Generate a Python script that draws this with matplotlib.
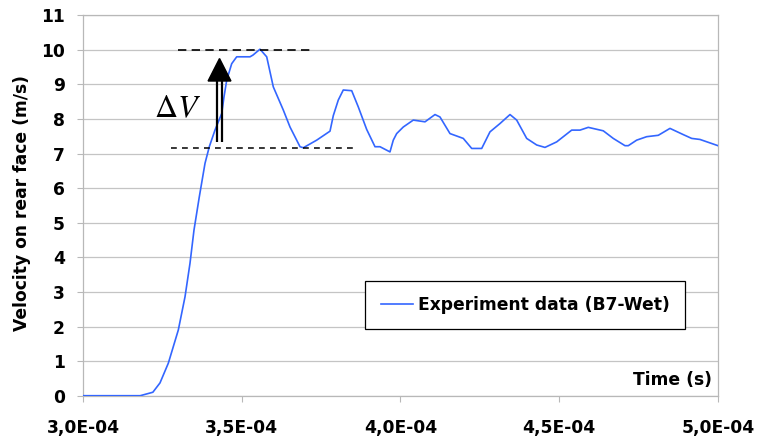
import numpy as np
import matplotlib.pyplot as plt
from matplotlib.patches import Polygon
from matplotlib.ticker import FixedLocator, FixedFormatter

# rear-face velocity record, time in units of 1e-4 s
time_e4 = [3.000, 3.180, 3.220, 3.2425, 3.2687, 3.3002, 3.3213, 3.3370, 3.3496,
           3.3663, 3.3843, 3.3978, 3.4157, 3.4369, 3.4441, 3.4526, 3.4683, 3.4841,
           3.5260, 3.5354, 3.5575, 3.5786, 3.5994, 3.6309, 3.6520, 3.6835, 3.6939,
           3.7361, 3.7780, 3.7884, 3.8041, 3.8198, 3.8463, 3.8671, 3.8935, 3.9197,
           3.9354, 3.9669, 3.9773, 3.9880, 4.0088, 4.0403, 4.0772, 4.1087, 4.1244,
           4.1559, 4.1978, 4.2243, 4.2558, 4.2819, 4.3134, 4.3449, 4.3660, 4.3975,
           4.4290, 4.4551, 4.4920, 4.5392, 4.5654, 4.5915, 4.6387, 4.6702, 4.7071,
           4.7175, 4.7439, 4.7754, 4.8120, 4.8488, 4.8907, 4.9172, 4.9433, 5.000]
velocity = [0.0, 0.0, 0.1, 0.37, 0.94, 1.9, 2.86, 3.83, 4.79,
            5.75, 6.72, 7.2, 7.68, 8.16, 8.64, 9.12, 9.6, 9.8,
            9.8, 9.85, 10.02, 9.8, 8.93, 8.26, 7.77, 7.2, 7.17,
            7.39, 7.65, 8.10, 8.55, 8.84, 8.82, 8.35, 7.7, 7.2,
            7.2, 7.05, 7.39, 7.58, 7.77, 7.97, 7.92, 8.13, 8.06,
            7.58, 7.44, 7.15, 7.15, 7.63, 7.87, 8.13, 7.97, 7.44,
            7.25, 7.18, 7.34, 7.68, 7.68, 7.76, 7.66, 7.44, 7.23,
            7.23, 7.39, 7.49, 7.53, 7.73, 7.55, 7.44, 7.41, 7.23]
x_ticks = [3.0e-4, 3.5e-4, 4.0e-4, 4.5e-4, 5.0e-4]
y_ticks = list(range(0, 12))
series_name = 'Experiment data (B7-Wet)'

# levels bracketing the velocity jump
dv_low = 7.15
dv_high = 10.0

time = np.array(time_e4) * 1e-4

plt.rcParams['font.family'] = 'DejaVu Sans'
plt.rcParams['mathtext.fontset'] = 'stix'

fig = plt.figure(figsize=(7.58, 4.41), dpi=100)
ax = fig.add_axes([0.1095, 0.1027, 0.8377, 0.8626])

ax.plot(time, velocity, color='#3366ff', lw=1.2, label=series_name, zorder=3)

ax.set_xlim(3.0e-4, 5.0e-4)
ax.set_ylim(0, 11)

grey = '#b8b8b8'
ax.xaxis.set_major_locator(FixedLocator(x_ticks))
ax.xaxis.set_major_formatter(FixedFormatter(
    [('%.1E' % v).replace('.', ',') for v in x_ticks]))
ax.set_yticks(y_ticks)
ax.tick_params(axis='x', length=4.5, width=0.8, color=grey, pad=12,
               labelsize=12.3)
ax.tick_params(axis='y', length=4.5, width=0.8, color=grey, pad=8.5,
               labelsize=12.3)
for lab in ax.get_xticklabels() + ax.get_yticklabels():
    lab.set_fontweight('bold')

ax.grid(axis='y', color='#c4c4c4', lw=0.9)
for side in ['left', 'bottom', 'right', 'top']:
    ax.spines[side].set_color(grey)
    ax.spines[side].set_linewidth(0.9)

ax.set_ylabel('Velocity on rear face (m/s)', fontsize=12.3, fontweight='bold')
ax.yaxis.label.set_va('center')
ax.yaxis.set_label_coords(-0.096, 0.507)

ax.text(0.99, 0.041, 'Time (s)', transform=ax.transAxes, ha='right',
        va='center', fontsize=12.3, fontweight='bold')

# dashed guide lines at the low and high velocity levels
ax.plot([3.299e-4, 3.721e-4], [dv_high, dv_high], color='black', lw=1.2,
        linestyle=(0, (5.0, 3.2)), zorder=4)
ax.plot([3.277e-4, 3.866e-4], [dv_low, dv_low], color='black', lw=1.1,
        linestyle=(0, (3.8, 3.4)), zorder=4)

# double-shaft arrow for the jump
arrow_t = 3.430e-4
shaft_dt = 0.0079e-4
for off in (-shaft_dt, shaft_dt):
    ax.plot([arrow_t + off, arrow_t + off], [dv_low + 0.19, dv_high - 0.9],
            color='black', lw=1.6, solid_capstyle='butt', zorder=5)
head_w = 0.036e-4
ax.add_patch(Polygon([[arrow_t - head_w, dv_high - 0.9],
                      [arrow_t + head_w, dv_high - 0.9],
                      [arrow_t, dv_high - 0.25]],
                     closed=True, color='black', zorder=5))
ax.text(3.299e-4, 8.3, r'$\Delta V$', fontsize=23, fontweight='normal',
        ha='center', va='center')

leg = ax.legend(loc='center', bbox_to_anchor=(0.6965, 0.2385), fontsize=12.3,
                frameon=True, fancybox=False, framealpha=1, edgecolor='black',
                handlelength=1.9, handletextpad=0.3, borderpad=0.9)
leg.get_frame().set_linewidth(0.9)
for txt in leg.get_texts():
    txt.set_fontweight('bold')

fig.savefig('out.png', dpi=100)
